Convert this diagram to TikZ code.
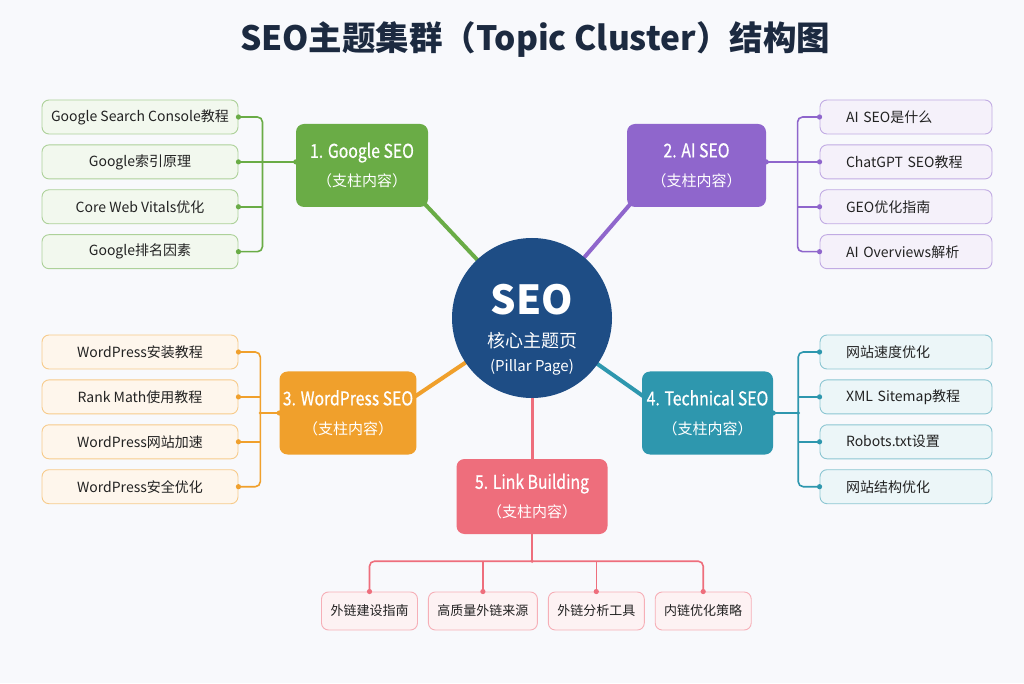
\documentclass[tikz,border=0pt]{standalone}
\usepackage{fontspec}
\setmainfont{Noto Sans CJK SC}
\newfontfamily\pillarfont[FakeStretch=0.83,FakeBold=0.6]{Noto Sans CJK SC}
\usetikzlibrary{positioning,backgrounds}
\definecolor{PageBg}{RGB}{248,249,252}
\definecolor{TitleInk}{RGB}{28,42,64}
\definecolor{LeafInk}{RGB}{34,34,34}
\definecolor{PillarNavy}{RGB}{30,77,133}
\definecolor{GoogleGreen}{RGB}{106,172,70}
\definecolor{AIPurple}{RGB}{143,102,204}
\definecolor{WPOrange}{RGB}{240,160,44}
\definecolor{TechTeal}{RGB}{46,151,174}
\definecolor{LinkPink}{RGB}{238,110,124}
\newcommand\pillarsub{{\normalfont\fontsize{15}{18}\selectfont （支柱内容）}}

\begin{document}
\begin{tikzpicture}[x=1pt,y=1pt,
node distance=10pt,
hub/.style={circle,fill=PillarNavy,text=white,minimum size=160pt,inner sep=0pt,align=center,
font=\fontsize{18}{33}\selectfont},
pillar/.style={rectangle,rounded corners=8pt,fill=#1,text=white,minimum width=132pt,minimum height=83pt,
align=center,font=\pillarfont\fontsize{19}{22}\selectfont},
leaf/.style={rectangle,rounded corners=7pt,draw=#1!55!white,fill=#1!9!white,line width=0.9pt,
text=LeafInk,minimum height=34pt,font=\fontsize{14}{16}\selectfont},
lleaf/.style={leaf=#1,minimum width=196pt,align=center},
rleaf/.style={leaf=#1,text width=120pt,inner xsep=26pt,align=left},
bleaf/.style={leaf=#1,minimum height=38pt,inner xsep=9pt,font=\fontsize{13}{16}\selectfont},
wire/.style={draw=#1,line width=1.6pt,rounded corners=5pt},
spoke/.style={draw=#1,line width=4pt}
]
\begin{scope}[on background layer]
\fill[PageBg] (0,0) rectangle (1024,683);
\end{scope}

% title and hub
\node[font=\bfseries\fontsize{33.5}{38}\selectfont,text=TitleInk] (title) at (535,643) {SEO主题集群（Topic Cluster）结构图};
\node[hub] (seo) at (532,365) {\rule{0pt}{54pt}{\bfseries\fontsize{40}{33}\selectfont SEO}\\
核心主题页\\[-9pt]{\fontsize{15}{33}\selectfont (Pillar Page)}};

% pillar pages
\node[pillar=GoogleGreen] (google) at (362,517.5) {1. Google SEO\\[7pt]\pillarsub};
\node[pillar=AIPurple,minimum width=139pt] (ai) at (696.5,517.5) {2. AI SEO\\[7pt]\pillarsub};
\node[pillar=WPOrange,minimum width=134pt] (wp) at (348,270) {3. WordPress SEO\\[7pt]\pillarsub};
\node[pillar=TechTeal,minimum width=131pt] (tech) at (707.5,270) {4. Technical SEO\\[7pt]\pillarsub};
\node[pillar=LinkPink,minimum width=151pt,minimum height=75pt] (lb) at (532,186.5) {5. Link Building\\[7pt]\pillarsub};

% cluster pages
\node[lleaf=GoogleGreen] (g1) at (140,566) {Google Search Console教程};
\node[lleaf=GoogleGreen,below=of g1] (g2) {Google索引原理};
\node[lleaf=GoogleGreen,below=of g2] (g3) {Core Web Vitals优化};
\node[lleaf=GoogleGreen,below=of g3] (g4) {Google排名因素};

\node[rleaf=AIPurple] (a1) at (906,566) {AI SEO是什么};
\node[rleaf=AIPurple,below=of a1] (a2) {ChatGPT SEO教程};
\node[rleaf=AIPurple,below=of a2] (a3) {GEO优化指南};
\node[rleaf=AIPurple,below=of a3] (a4) {AI Overviews解析};

\node[lleaf=WPOrange] (w1) at (140,331) {WordPress安装教程};
\node[lleaf=WPOrange,below=of w1] (w2) {Rank Math使用教程};
\node[lleaf=WPOrange,below=of w2] (w3) {WordPress网站加速};
\node[lleaf=WPOrange,below=of w3] (w4) {WordPress安全优化};

\node[rleaf=TechTeal] (t1) at (906,331) {网站速度优化};
\node[rleaf=TechTeal,below=of t1] (t2) {XML Sitemap教程};
\node[rleaf=TechTeal,below=of t2] (t3) {Robots.txt设置};
\node[rleaf=TechTeal,below=of t3] (t4) {网站结构优化};

\node[bleaf=LinkPink] (l1) at (369.5,72) {外链建设指南};
\node[bleaf=LinkPink,right=of l1] (l2) {高质量外链来源};
\node[bleaf=LinkPink,right=of l2] (l3) {外链分析工具};
\node[bleaf=LinkPink,right=of l3] (l4) {内链优化策略};

% spokes behind the boxes
\begin{scope}[on background layer]
\draw[spoke=GoogleGreen] ([shift={(-6pt,6pt)}]google.south east) -- (seo.center);
\draw[spoke=AIPurple] ([shift={(6pt,6pt)}]ai.south west) -- (seo.center);
\draw[spoke=WPOrange] ([shift={(-4pt,15pt)}]wp.east) -- (seo.center);
\draw[spoke=TechTeal] ([shift={(4pt,15pt)}]tech.west) -- (seo.center);
\draw[spoke=LinkPink,line width=3pt] (seo.center) -- (seo.center |- lb.center);
\end{scope}

% buses
\coordinate (gbus) at ([xshift=24pt]g2.east);
\draw[wire=GoogleGreen] (g1.east) -| (gbus) |- (g4.east);
\foreach \n in {g2,g3} \draw[wire=GoogleGreen] (\n.east) -- (\n.east -| gbus);
\draw[wire=GoogleGreen] (gbus) -- (gbus -| google.west);
\foreach \n in {g1,g2,g3,g4} \fill[GoogleGreen] (\n.east) circle (2.6pt);
\fill[GoogleGreen] (gbus -| google.west) circle (2.6pt);
\fill[GoogleGreen] (gbus) circle (1.8pt);

\coordinate (abus) at ([xshift=-22pt]a2.west);
\draw[wire=AIPurple] (a1.west) -| (abus) |- (a4.west);
\foreach \n in {a2,a3} \draw[wire=AIPurple] (\n.west) -- (\n.west -| abus);
\draw[wire=AIPurple] (abus) -- (abus -| ai.east);
\foreach \n in {a1,a2,a3,a4} \fill[AIPurple] (\n.west) circle (2.6pt);
\fill[AIPurple] (abus -| ai.east) circle (2.6pt);
\fill[AIPurple] (abus) circle (1.8pt);

\coordinate (wbus) at ([xshift=-19pt]wp.west);
\draw[wire=WPOrange] (w1.east) -| (wbus) |- (w4.east);
\foreach \n in {w2,w3} \draw[wire=WPOrange] (\n.east) -- (\n.east -| wbus);
\draw[wire=WPOrange] (wbus) -- (wp.west);
\foreach \n in {w1,w2,w3,w4} \fill[WPOrange] (\n.east) circle (2.6pt);
\fill[WPOrange] (wp.west) circle (2.6pt);
\fill[WPOrange] (wbus) circle (1.8pt);

\coordinate (tbus) at ([xshift=25pt]tech.east);
\draw[wire=TechTeal] (t1.west) -| (tbus) |- (t4.west);
\foreach \n in {t2,t3} \draw[wire=TechTeal] (\n.west) -- (\n.west -| tbus);
\draw[wire=TechTeal] (tbus) -- (tech.east);
\foreach \n in {t1,t2,t3,t4} \fill[TechTeal] (\n.west) circle (2.6pt);
\fill[TechTeal] (tech.east) circle (2.6pt);
\fill[TechTeal] (tbus) circle (1.8pt);

\coordinate (lbus) at ([yshift=-27pt]lb.south);
\draw[wire=LinkPink] (l1.north) |- (lbus) -| (l4.north);
\foreach \n in {l2,l3} \draw[wire=LinkPink] (\n.north) -- (\n.north |- lbus);
\draw[wire=LinkPink] (lb.south) -- (lbus);
\foreach \n in {l1,l2,l3,l4} \fill[LinkPink] (\n.north) circle (2.6pt);
\fill[LinkPink] (lbus) circle (1.8pt);
\end{tikzpicture}
\end{document}
